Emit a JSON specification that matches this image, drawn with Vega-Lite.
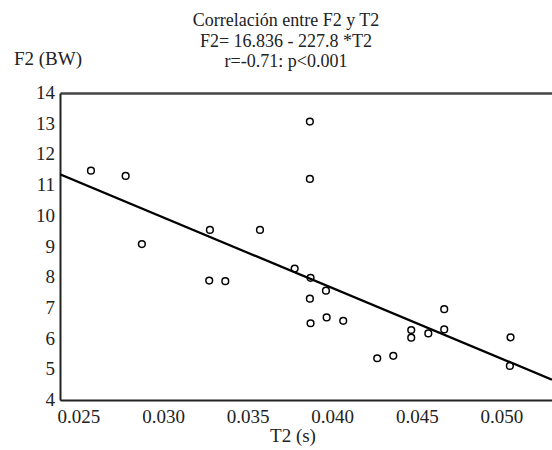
{
  "$schema": "https://vega.github.io/schema/vega-lite/v6.json",
  "width": 492,
  "height": 307,
  "autosize": {"type": "none"},
  "padding": {"left": 60, "top": 93, "right": 0, "bottom": 50},
  "background": "white",
  "config": {
    "font": "Liberation Serif",
    "view": {"stroke": null}
  },
  "title": {
    "text": ["Correlación entre F2 y T2", "F2= 16.836 - 227.8 *T2", "r=-0.71: p<0.001"],
    "font": "Liberation Serif",
    "fontSize": 18,
    "fontWeight": "normal",
    "color": "#222",
    "lineHeight": 20.5,
    "anchor": "middle",
    "dx": -20,
    "offset": -21
  },
  "datasets": {
    "pts": [
      {"T2": 0.02571, "F2": 11.47},
      {"T2": 0.02776, "F2": 11.30},
      {"T2": 0.02872, "F2": 9.08},
      {"T2": 0.03274, "F2": 9.54},
      {"T2": 0.03570, "F2": 9.54},
      {"T2": 0.03270, "F2": 7.89},
      {"T2": 0.03365, "F2": 7.87},
      {"T2": 0.03775, "F2": 8.28},
      {"T2": 0.03865, "F2": 13.07},
      {"T2": 0.03865, "F2": 11.20},
      {"T2": 0.03869, "F2": 7.98},
      {"T2": 0.03960, "F2": 7.56},
      {"T2": 0.03865, "F2": 7.30},
      {"T2": 0.03964, "F2": 6.69},
      {"T2": 0.04062, "F2": 6.58},
      {"T2": 0.03869, "F2": 6.50},
      {"T2": 0.04263, "F2": 5.36},
      {"T2": 0.04358, "F2": 5.44},
      {"T2": 0.04464, "F2": 6.28},
      {"T2": 0.04464, "F2": 6.03},
      {"T2": 0.04565, "F2": 6.17},
      {"T2": 0.04659, "F2": 6.96},
      {"T2": 0.04659, "F2": 6.30},
      {"T2": 0.05051, "F2": 6.04},
      {"T2": 0.05047, "F2": 5.11}
    ],
    "fit": [
      {"T2": 0.02388, "F2": 11.35},
      {"T2": 0.05296, "F2": 4.66}
    ],
    "yticks": [
      {"F2": 4, "label": "4"}, {"F2": 5, "label": "5"}, {"F2": 6, "label": "6"}, {"F2": 7, "label": "7"},
      {"F2": 8, "label": "8"}, {"F2": 9, "label": "9"}, {"F2": 10, "label": "10"}, {"F2": 11, "label": "11"},
      {"F2": 12, "label": "12"}, {"F2": 13, "label": "13"}, {"F2": 14, "label": "14"}
    ],
    "xticks": [
      {"T2": 0.025, "label": "0.025"}, {"T2": 0.030, "label": "0.030"}, {"T2": 0.035, "label": "0.035"},
      {"T2": 0.040, "label": "0.040"}, {"T2": 0.045, "label": "0.045"}, {"T2": 0.050, "label": "0.050"}
    ],
    "axtitles": [
      {"T2": 0.02317, "F2": 15.1, "label": "F2 (BW)"},
      {"T2": 0.03765, "F2": 2.84, "label": "T2 (s)"}
    ]
  },
  "layer": [
    {
      "data": {"name": "pts"},
      "mark": {"type": "point", "shape": "circle", "size": 45, "filled": false, "fill": "white", "stroke": "black", "strokeWidth": 1.5, "opacity": 1},
      "encoding": {
        "x": {"field": "T2", "type": "quantitative", "scale": {"domain": [0.02388, 0.05296], "nice": false, "zero": false},
              "axis": {"orient": "bottom", "labels": false, "ticks": false, "grid": false, "title": null,
                       "domainColor": "#222", "domainWidth": 2}},
        "y": {"field": "F2", "type": "quantitative", "scale": {"domain": [4, 14], "nice": false, "zero": false},
              "axis": {"labels": false, "ticks": false, "grid": false, "title": null,
                       "domainColor": "#222", "domainWidth": 2}}
      }
    },
    {
      "data": {"name": "fit"},
      "mark": {"type": "line", "color": "black", "strokeWidth": 2.3, "clip": true},
      "encoding": {
        "x": {"field": "T2", "type": "quantitative",
              "axis": {"orient": "top", "labels": false, "ticks": false, "grid": false, "title": null, "domainWidth": 2.5, "domainColor": "#444"}},
        "y": {"field": "F2", "type": "quantitative"}
      }
    },
    {
      "data": {"name": "yticks"},
      "mark": {"type": "text", "font": "Liberation Serif", "fontSize": 19, "color": "#222", "align": "right", "baseline": "middle", "dx": -5, "clip": false},
      "encoding": {
        "x": {"datum": 0.02388, "type": "quantitative", "axis": null},
        "y": {"field": "F2", "type": "quantitative"},
        "text": {"field": "label"}
      }
    },
    {
      "data": {"name": "xticks"},
      "mark": {"type": "text", "font": "Liberation Serif", "fontSize": 19, "color": "#222", "align": "center", "baseline": "middle", "dy": 17, "clip": false},
      "encoding": {
        "x": {"field": "T2", "type": "quantitative", "axis": null},
        "y": {"datum": 4, "type": "quantitative"},
        "text": {"field": "label"}
      }
    },
    {
      "data": {"name": "axtitles"},
      "mark": {"type": "text", "font": "Liberation Serif", "fontSize": 19, "color": "#222", "align": "center", "baseline": "middle", "clip": false},
      "encoding": {
        "x": {"field": "T2", "type": "quantitative", "axis": null},
        "y": {"field": "F2", "type": "quantitative"},
        "text": {"field": "label"}
      }
    }
  ],
  "resolve": {"axis": {"x": "independent"}}
}
